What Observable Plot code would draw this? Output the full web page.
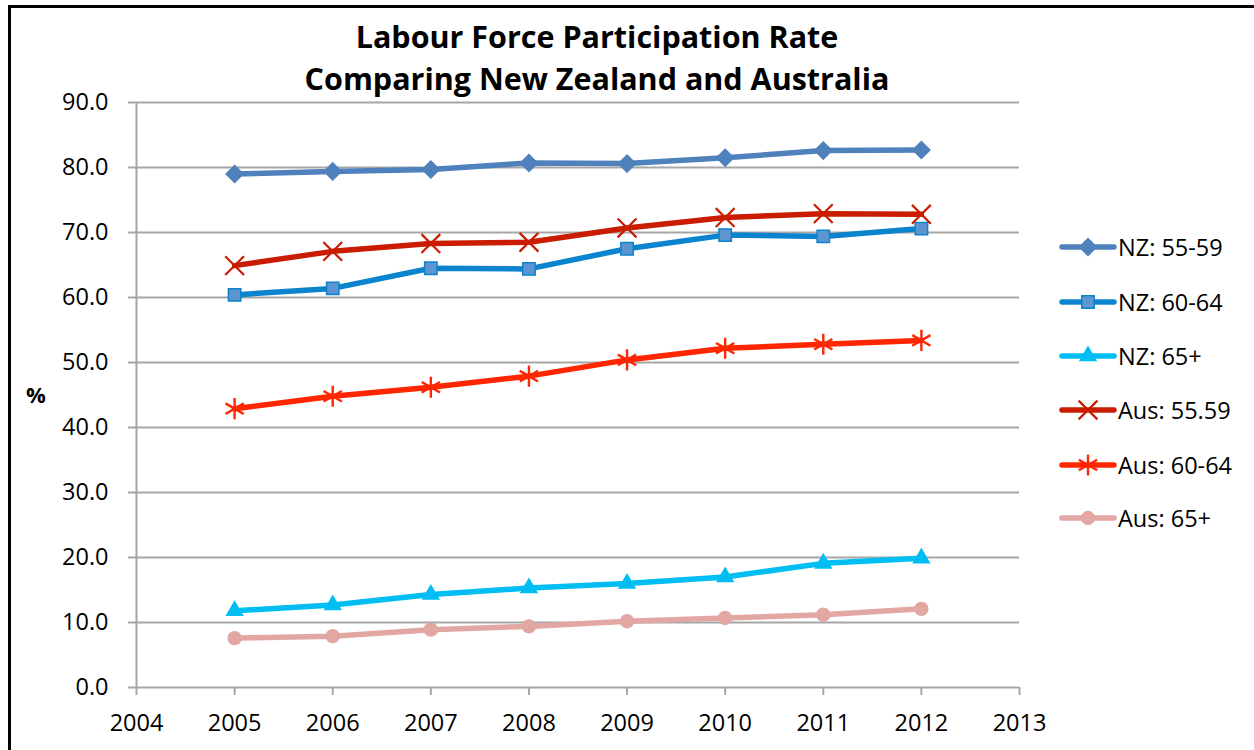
<!DOCTYPE html>
<html>
<head>
<meta charset="utf-8">
<script src="https://cdn.jsdelivr.net/npm/d3@7"></script>
<script src="https://cdn.jsdelivr.net/npm/@observablehq/plot@0.6"></script>
<style>
  html, body { margin: 0; padding: 0; background: #fff; }
  #wrap { position: relative; width: 1254px; height: 750px; overflow: hidden; background: #fff; }
  #frame { position: absolute; left: 8px; top: 5px; width: 1300px; height: 800px; border-left: 3px solid #000; border-top: 3px solid #000; }
  #chart { position: absolute; left: 0; top: 0; }
  #overlay { position: absolute; left: 0; top: 0; pointer-events: none; }
  #chart svg { overflow: visible; }
</style>
</head>
<body>
<div id="wrap">
  <div id="frame"></div>
  <div id="chart"></div>
  <svg id="overlay" width="1254" height="750"></svg>
</div>
<script>
// ---- data ----
const years = [2005, 2006, 2007, 2008, 2009, 2010, 2011, 2012];
const nz5559  = [79.0, 79.4, 79.7, 80.7, 80.6, 81.5, 82.6, 82.7];
const nz6064  = [60.4, 61.4, 64.5, 64.4, 67.5, 69.6, 69.4, 70.6];
const nz65    = [11.8, 12.7, 14.3, 15.3, 16.0, 17.0, 19.1, 19.9];
const aus5559 = [64.9, 67.1, 68.3, 68.5, 70.7, 72.3, 72.9, 72.8];
const aus6064 = [42.9, 44.8, 46.2, 47.9, 50.4, 52.2, 52.8, 53.4];
const aus65   = [7.6, 7.9, 8.9, 9.4, 10.2, 10.7, 11.2, 12.1];
const seriesNames = ["NZ: 55-59", "NZ: 60-64", "NZ: 65+", "Aus: 55.59", "Aus: 60-64", "Aus: 65+"];
const xTicks = [2004, 2005, 2006, 2007, 2008, 2009, 2010, 2011, 2012, 2013];
const yTicks = [0, 10, 20, 30, 40, 50, 60, 70, 80, 90];
const titleLines = ["Labour Force Participation Rate", "Comparing New Zealand and Australia"];
const yLabel = "%";

// ---- styles ----
const styles = [
  {line: "#4f81bd", symbol: "diamond2", r: 8.6, fill: "#4f81bd", stroke: "none", sw: 0},
  {line: "#0a84cc", symbol: "square", r: 7.0, fill: "#5d95d0", stroke: "#0a84cc", sw: 1.5},
  {line: "#00bdf2", symbol: "triangle", r: 6.8, fill: "#00bdf2", stroke: "none", sw: 0},
  {line: "#c91c00", symbol: "times", r: 8.6, fill: "none", stroke: "#c91c00", sw: 2.2},
  {line: "#ff2600", symbol: "asterisk", r: 10, fill: "none", stroke: "#ff2600", sw: 2.4},
  {line: "#e3a7a3", symbol: "circle", r: 7.2, fill: "#e3a7a3", stroke: "none", sw: 0}
];
const valuesList = [nz5559, nz6064, nz65, aus5559, aus6064, aus65];
const rows = [];
valuesList.forEach((vals, i) => vals.forEach((v, j) => rows.push({series: seriesNames[i], idx: i, year: years[j], value: v})));

const axisColor = "#a6a6a6";
const fontFam = "'Open Sans', 'Liberation Sans', sans-serif";

const marks = [
  Plot.gridY({ticks: yTicks.filter(d => d > 0), stroke: axisColor, strokeOpacity: 1, strokeWidth: 2}),
  Plot.ruleX([2004], {stroke: axisColor, strokeWidth: 2}),
  Plot.ruleY([0], {stroke: axisColor, strokeWidth: 2}),
  Plot.axisY({ticks: yTicks, tickSize: 8, tickPadding: 20, tickFormat: d => d.toFixed(1), stroke: axisColor, strokeWidth: 2, strokeOpacity: 1, fill: "#000", fontSize: 23.5, label: null}),
  Plot.axisX({ticks: xTicks, tickSize: 8, tickPadding: 19, tickFormat: d => String(d), stroke: axisColor, strokeWidth: 2, strokeOpacity: 1, fill: "#000", fontSize: 23.5, label: null})
];
styles.forEach((s, i) => {
  const data = rows.filter(d => d.idx === i);
  marks.push(Plot.line(data, {x: "year", y: "value", stroke: s.line, strokeWidth: 5.5, strokeLinejoin: "round", strokeLinecap: "round"}));
});
styles.forEach((s, i) => {
  const data = rows.filter(d => d.idx === i);
  marks.push(Plot.dot(data, {x: "year", y: "value", symbol: () => s.symbol, r: s.r, fill: s.fill, stroke: s.stroke, strokeWidth: s.sw}));
});

const plot = Plot.plot({
  width: 1254, height: 750,
  marginLeft: 136, marginRight: 235, marginTop: 102, marginBottom: 63,
  style: {fontFamily: fontFam, background: "transparent", overflow: "visible"},
  x: {domain: [2004, 2013], label: null},
  y: {domain: [0, 90], label: null},
  marks
});
document.getElementById("chart").appendChild(plot);

// ---- overlay: title, y label, legend ----
const ov = d3.select("#overlay");
ov.selectAll("text.title").data(titleLines).join("text")
  .attr("x", 597).attr("y", (d, i) => 48 + i * 42)
  .attr("text-anchor", "middle")
  .attr("font-family", fontFam).attr("font-weight", "bold").attr("font-size", 30.5)
  .attr("fill", "#000").text(d => d);
ov.append("text").attr("x", 36).attr("y", 403).attr("text-anchor", "middle")
  .attr("font-family", fontFam).attr("font-weight", "bold").attr("font-size", 22).text(yLabel);

const legendY = [247, 302, 356, 410, 465, 518];
const lg = ov.append("g");
styles.forEach((s, i) => {
  const g = lg.append("g").attr("transform", `translate(0,${legendY[i]})`);
  g.append("line").attr("x1", 1062).attr("x2", 1114).attr("y1", 0).attr("y2", 0)
    .attr("stroke", s.line).attr("stroke-width", 5.5).attr("stroke-linecap", "round");
  const symMap = {diamond2: d3.symbolDiamond2, square: d3.symbolSquare, triangle: d3.symbolTriangle, times: d3.symbolTimes, asterisk: d3.symbolAsterisk, circle: d3.symbolCircle};
  g.append("path").attr("transform", "translate(1088,0)")
    .attr("d", d3.symbol(symMap[s.symbol], s.r * s.r * Math.PI)())
    .attr("fill", s.fill).attr("stroke", s.stroke).attr("stroke-width", s.sw);
  g.append("text").attr("x", 1118).attr("y", 8.5).attr("font-family", fontFam).attr("font-size", 23.5)
    .attr("fill", "#000").text(seriesNames[i]);
});
</script>
</body>
</html>
